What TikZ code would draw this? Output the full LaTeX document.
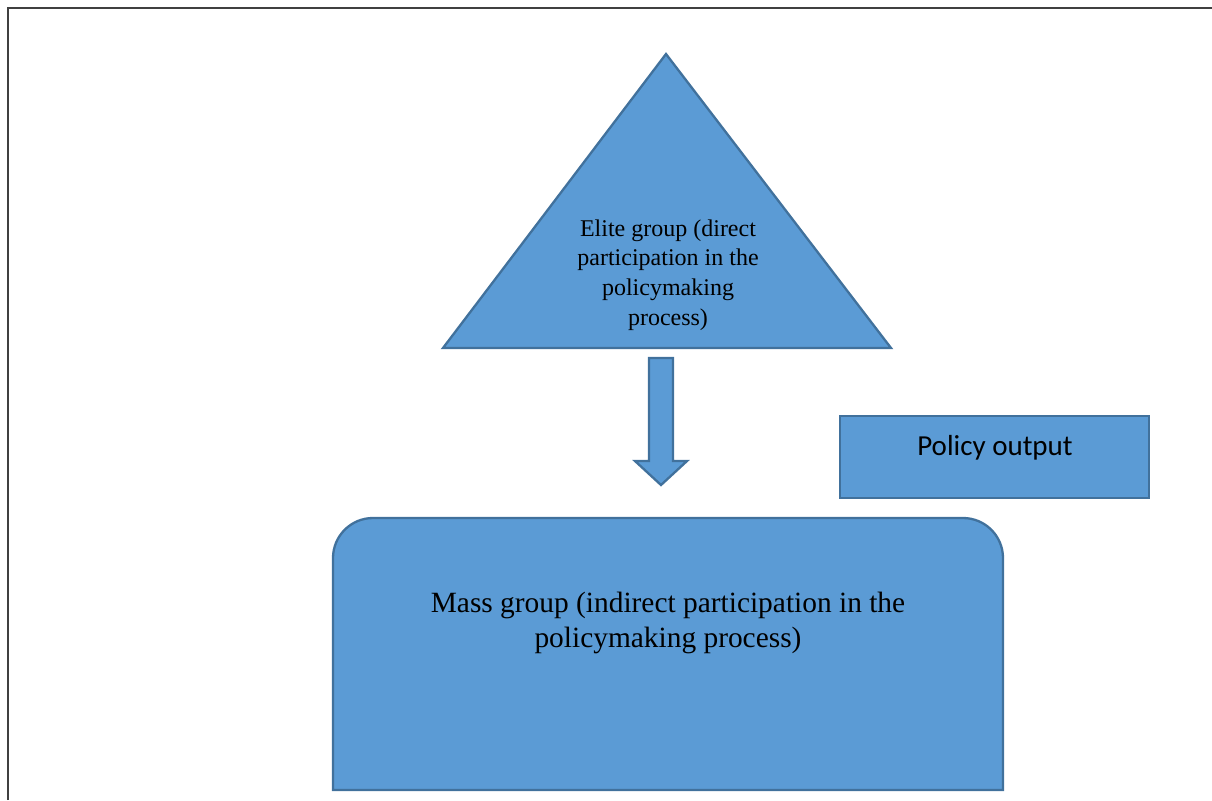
\documentclass[tikz,border=0pt]{standalone}
\usepackage{fontspec}
\setmainfont{Liberation Serif}
\newfontfamily\labelsans{Carlito}
\definecolor{boxfill}{HTML}{5B9BD5}
\definecolor{boxline}{HTML}{41719C}
\definecolor{framegray}{HTML}{404040}
\begin{document}
\begin{tikzpicture}[x=0.5pt,y=-0.5pt,
  blueshape/.style={fill=boxfill,draw=boxline,line width=1.15pt,line join=miter},
  serifsmall/.style={align=center,font=\fontsize{12}{14.8}\selectfont},
  seriflarge/.style={align=center,font=\fontsize{14.7}{17.5}\selectfont},
  sanslabel/.style={font=\labelsans\fontsize{14.5}{17}\selectfont}]
\useasboundingbox (0,0) rectangle (1212,800);
% page frame (top and left edges)
\draw[framegray,line width=1.2pt] (8,800) -- (8,8) -- (1212,8);

% elite group triangle
\coordinate (apex) at (666,54);
\coordinate (baseR) at (891,348);
\coordinate (baseL) at (443,348);
\draw[blueshape] (apex) -- (baseR) -- (baseL) -- cycle;
\node[serifsmall] (elite) at (668,275) {Elite group (direct\\participation in the\\policymaking\\process)};

% downward block arrow
\draw[blueshape] (649,358) -- (673,358) -- (673,461) -- (687,461) -- (661,485)
  -- (635,461) -- (649,461) -- cycle;

% policy output box
\draw[blueshape] (840,416) rectangle (1149,498);
\node[sanslabel] (policy) at (995,448) {Policy output};

% mass group box with rounded top corners
\draw[blueshape] (333,790) [rounded corners=20pt] -- (333,518) -- (1003,518)
  [sharp corners] -- (1003,790) -- cycle;
\node[seriflarge] (mass) at (668,623) {Mass group (indirect participation in the\\policymaking process)};
\end{tikzpicture}
\end{document}
